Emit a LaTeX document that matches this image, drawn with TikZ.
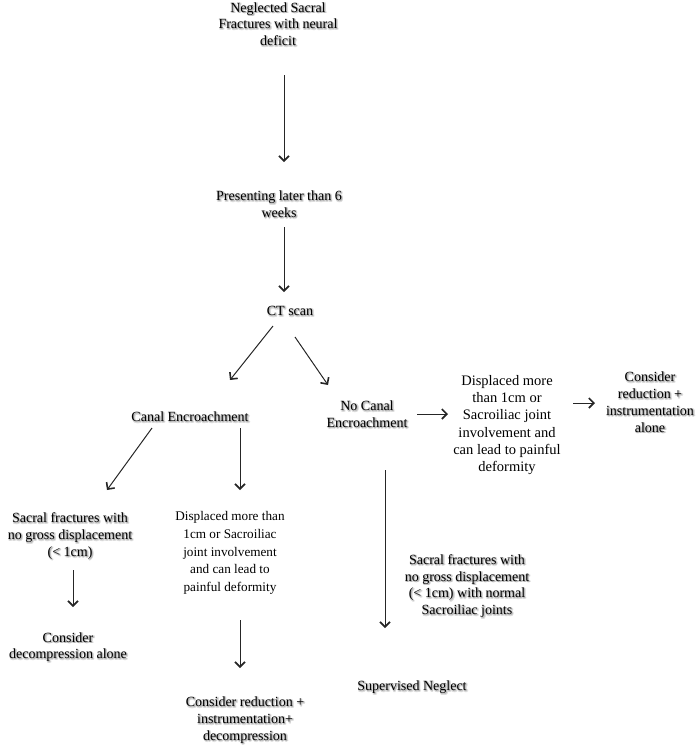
\documentclass[tikz,border=0pt]{standalone}
\usepackage{fontspec}
\setmainfont{Liberation Serif}
\usepackage{contour}
\contourlength{0.9pt}
\contournumber{8}
\usepackage{tikz}
\usetikzlibrary{arrows.meta}

% soft grey shadow behind a line of text
\newcommand{\shtxt}[1]{\rlap{\kern1pt\raisebox{-1pt}{\contour{black!14}{\textcolor{black!30}{#1}}}}#1}

\begin{document}
\begin{tikzpicture}[x=1pt,y=-1pt,
		box/.style={align=center,inner sep=0pt,font=\fontsize{14}{16.8}\selectfont},
		plain/.style={align=center,inner sep=0pt},
		arr/.style={-{Straight Barb[length=5pt,width=10pt,line width=1.6pt]},line width=1pt,black!85}]
			% page size
			\useasboundingbox (0,0) rectangle (697,750);
			% main column
			\node[box] (neglect) at (278,25) {\shtxt{Neglected Sacral}\\\shtxt{Fractures with neural}\\\shtxt{deficit}};
			\node[box] (later) at (279,205) {\shtxt{Presenting later than 6}\\\shtxt{weeks}};
			\node[box] (ct) at (290,312) {\shtxt{CT scan}};
			% the two branches
			\node[box] (canal) at (190,418) {\shtxt{Canal Encroachment}};
			\node[box] (nocanal) at (367,415) {\shtxt{No Canal}\\\shtxt{Encroachment}};
			% right branch
			\node[plain,font=\fontsize{14.5}{17.3}\selectfont] (dispR) at (507,425) {Displaced more\\than 1cm or\\Sacroiliac joint\\involvement and\\can lead to painful\\deformity};
			\node[box] (redR) at (650,403) {\shtxt{Consider}\\\shtxt{reduction +}\\\shtxt{instrumentation}\\\shtxt{alone}};
			\node[box] (sacR) at (467,587) {\shtxt{Sacral fractures with}\\\shtxt{no gross displacement}\\\shtxt{(< 1cm) with normal}\\\shtxt{Sacroiliac joints}};
			\node[box] (sup) at (412,688) {\shtxt{Supervised Neglect}};
			% left branch
			\node[box] (sacL) at (70,537) {\shtxt{Sacral fractures with}\\\shtxt{no gross displacement}\\\shtxt{(< 1cm)}};
			\node[plain,font=\fontsize{13.2}{17.8}\selectfont] (dispL) at (230,553) {Displaced more than\\1cm or Sacroiliac\\joint involvement\\and can lead to\\painful deformity};
			\node[box] (decomp) at (68,648) {\shtxt{Consider}\\\shtxt{decompression alone}};
			\node[box] (redL) at (245,721) {\shtxt{Consider reduction +}\\\shtxt{instrumentation+}\\\shtxt{decompression}};
			% arrows
			\draw[arr] ([shift={(6,50)}]neglect.center) -- ([shift={(5,-43)}]later.center);
			\draw[arr] ([shift={(5,22)}]later.center) -- ([shift={(-6,-20)}]ct.center);
			\draw[arr] ([shift={(-17,14)}]ct.center) -- ([shift={(40,-38)}]canal.center);
			\draw[arr] ([shift={(5,25)}]ct.center) -- ([shift={(-39,-30)}]nocanal.center);
			\draw[arr] ([shift={(50,-1)}]nocanal.center) -- ([shift={(-59,-11)}]dispR.center);
			\draw[arr] ([shift={(66,-22)}]dispR.center) -- ([shift={(-55,0)}]redR.center);
			\draw[arr] ([shift={(18,55)}]nocanal.center) -- ([shift={(-27,-60)}]sup.center);
			\draw[arr] ([shift={(-38,10)}]canal.center) -- ([shift={(37,-47)}]sacL.center);
			\draw[arr] ([shift={(50,10)}]canal.center) -- ([shift={(10,-63)}]dispL.center);
			\draw[arr] ([shift={(3,33)}]sacL.center) -- ([shift={(5,-41)}]decomp.center);
			\draw[arr] ([shift={(10,67)}]dispL.center) -- ([shift={(-5,-53)}]redL.center);
		\end{tikzpicture}
\end{document}
